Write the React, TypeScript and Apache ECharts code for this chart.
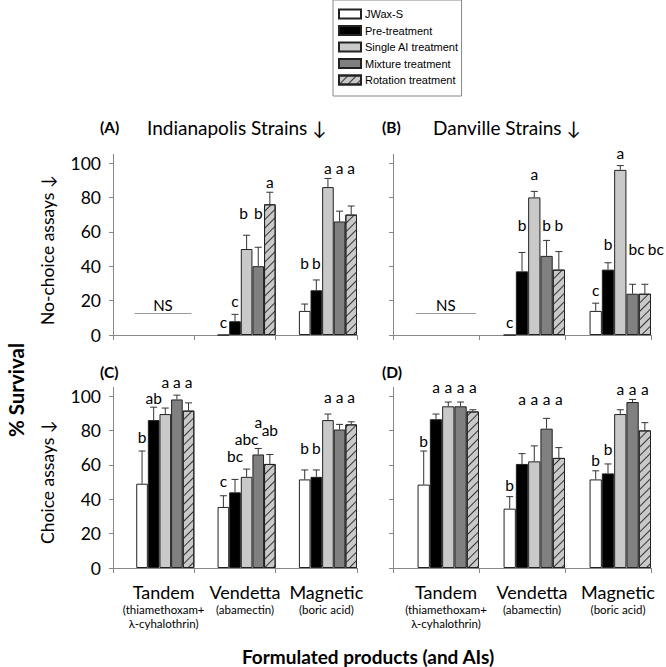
import React, { useEffect, useRef } from "react";
import * as echarts from "echarts";

const categories = ["Tandem", "Vendetta", "Magnetic"];
const subLabels = ["(thiamethoxam+\nλ-cyhalothrin)", "(abamectin)", "(boric acid)"];
const seriesNames = ["JWax-S", "Pre-treatment", "Single AI treatment", "Mixture treatment", "Rotation treatment"];
const yTicks = [0, 20, 40, 60, 80, 100];
const nsLevel = 12.5;

// Panel A: Indianapolis, no-choice (rows = series, cols = categories)
const meansA = [[null, 0, 14], [null, 8, 26], [null, 50, 86], [null, 40, 66], [null, 76, 70]];
const errA = [[null, null, 18], [null, 12, 32], [null, 58, 91], [null, 51, 72], [null, 83, 75]];
const lettersA = [["", "c", "b"], ["", "c", "b"], ["", "b", "a"], ["", "b", "a"], ["", "a", "a"]];
const letterYA = [[0, 7.5, 42], [0, 19.5, 42], [0, 71, 97], [0, 71, 97], [0, 89, 97]];

// Panel B: Danville, no-choice
const meansB = [[null, 0, 14], [null, 37, 38], [null, 80, 96], [null, 46, 24], [null, 38, 24]];
const errB = [[null, null, 18.5], [null, 48, 42], [null, 83.5, 98.5], [null, 55, 29.5], [null, 48.5, 29.5]];
const lettersB = [["", "c", "c"], ["", "b", "b"], ["", "a", "a"], ["", "b", "bc"], ["", "b", "bc"]];
const letterYB = [[0, 7.5, 26], [0, 64, 53], [0, 93.5, 106], [0, 64, 50], [0, 64, 50]];

// Panel C: Indianapolis, choice
const meansC = [[49, 35.5, 51.5], [86, 44, 53], [89.5, 53, 86], [98, 66, 80.5], [91.5, 60.5, 83.5]];
const errC = [[68, 42, 57], [93.5, 51.5, 57], [93, 57.5, 89.5], [100.5, 69.5, 83.5], [96, 66, 85]];
const lettersC = [["b", "c", "b"], ["ab", "bc", "b"], ["a", "abc", "a"], ["a", "a", "a"], ["a", "ab", "a"]];
const letterYC = [[76, 50.5, 70], [99, 65, 70], [108, 75, 99.5], [108, 85, 99.5], [108, 80, 99.5]];

// Panel D: Danville, choice
const meansD = [[48.5, 34.5, 51.5], [86.5, 60.5, 55], [94, 62, 89.5], [94, 81, 96.5], [91, 64, 80]];
const errD = [[68, 41.5, 56.5], [89.5, 66.5, 60.5], [96.5, 71, 92], [96.5, 87, 98], [92, 70, 84.5]];
const lettersD = [["b", "b", "b"], ["a", "a", "b"], ["a", "a", "a"], ["a", "a", "a"], ["a", "a", "a"]];
const letterYD = [[74, 48, 63], [105, 98.5, 69], [105, 98.5, 104], [105, 98.5, 104], [105, 98.5, 104]];

const FONT = "Lato, 'Open Sans', sans-serif";
const fillColors = ["#ffffff", "#000000", "#c9c9c9", "#808080", "#c9c9c9"];

// small horizontal nudges (px) for crowded letter pairs: [panel, series, category, dx]
const letterNudges: [number, number, number, number][] = [
  [1, 3, 2, 4],
  [1, 4, 2, 11],
  [0, 2, 1, -3],
];

type Panel = {
  means: (number | null)[][];
  err: (number | null)[][];
  letters: string[][];
  letterY: number[][];
  ns: boolean;
  left: number;
  top: number;
  width: number;
  showY: boolean;
  showX: boolean;
};

const PH = 180.6;
const panels: Panel[] = [
  { means: meansA, err: errA, letters: lettersA, letterY: letterYA, ns: true, left: 113, top: 154.4, width: 244, showY: true, showX: false },
  { means: meansB, err: errB, letters: lettersB, letterY: letterYB, ns: true, left: 393, top: 154.4, width: 258, showY: false, showX: false },
  { means: meansC, err: errC, letters: lettersC, letterY: letterYC, ns: false, left: 113, top: 387.4, width: 244, showY: true, showX: true },
  { means: meansD, err: errD, letters: lettersD, letterY: letterYD, ns: false, left: 393, top: 387.4, width: 258, showY: false, showX: true },
];

function buildOption() {
  const grid: any[] = [];
  const xAxis: any[] = [];
  const yAxis: any[] = [];
  const series: any[] = [];

  panels.forEach((p, pi) => {
    grid.push({ left: p.left, top: p.top, width: p.width, height: PH, containLabel: false });
    xAxis.push({
      type: "category",
      gridIndex: pi,
      data: categories,
      axisLine: { show: true, lineStyle: { color: "#888", width: 1 } },
      axisTick: { show: true, length: 5, lineStyle: { color: "#888" } },
      axisLabel: p.showX
        ? {
            show: true,
            interval: 0,
            margin: 12,
            padding: [0, 0, 0, 20],
            formatter: (v: string, i: number) =>
              `{m|${v}}\n` + subLabels[i].split("\n").map((s) => `{s|${s}}`).join("\n"),
            rich: {
              m: { fontSize: 18, fontFamily: FONT, color: "#000", lineHeight: 23 },
              s: { fontSize: 11.5, fontFamily: FONT, color: "#000", lineHeight: 13.5 },
            },
          }
        : { show: false },
      splitLine: { show: false },
    });
    yAxis.push({
      type: "value",
      gridIndex: pi,
      min: 0,
      max: 105,
      interval: 20,
      axisLine: { show: true, lineStyle: { color: "#888", width: 1 } },
      axisTick: { show: true, length: 4, lineStyle: { color: "#888" }, customValues: yTicks },
      axisLabel: p.showY
        ? { show: true, customValues: yTicks, fontSize: 17.5, fontFamily: FONT, color: "#000", margin: 12 }
        : { show: false },
      splitLine: { show: false },
    });

    for (let k = 0; k < 2; k++) {
      series.push({
        type: "bar",
        name: "_spacer" + k,
        xAxisIndex: pi,
        yAxisIndex: pi,
        data: [0, 0, 0],
        itemStyle: { color: "rgba(0,0,0,0)", borderWidth: 0 },
        barGap: "0%",
        barCategoryGap: "0%",
        silent: true,
      });
    }
    seriesNames.forEach((name, s) => {
      const itemStyle: any = { color: fillColors[s], borderColor: "#222", borderWidth: 1 };
      if (s === 4) {
        itemStyle.decal = {
          symbol: "rect",
          symbolSize: 1,
          dashArrayX: [1, 0],
          dashArrayY: [1, 4.5],
          rotation: -Math.PI / 4,
          color: "#333",
        };
      }
      series.push({
        type: "bar",
        name,
        xAxisIndex: pi,
        yAxisIndex: pi,
        data: p.means[s].map((v) => (v == null ? "-" : v)),
        itemStyle,
        barGap: "0%",
        barCategoryGap: "0%",
      });
    });

    const items: any[] = [];
    for (let s = 0; s < 5; s++) {
      for (let c = 0; c < 3; c++) {
        if (p.means[s][c] == null) continue;
        const nudge = letterNudges.find((n) => n[0] === pi && n[1] === s && n[2] === c);
        items.push({
          cat: c,
          slot: s,
          val: p.means[s][c],
          err: p.err[s][c],
          letter: p.letters[s][c],
          ly: p.letterY[s][c],
          dx: nudge ? nudge[3] : 0,
        });
      }
    }
    series.push({
      type: "custom",
      name: "_err" + pi,
      xAxisIndex: pi,
      yAxisIndex: pi,
      z: 5,
      silent: true,
      data: items.map((it) => [it.cat, it.val]),
      renderItem: (params: any, api: any) => {
        const it = items[params.dataIndex];
        const bw = api.size([1, 0])[0] / 7;
        const cx = api.coord([it.cat, 0])[0] + (it.slot - 1) * bw;
        const children: any[] = [];
        if (it.err != null) {
          const y0 = api.coord([it.cat, it.val])[1];
          const y1 = api.coord([it.cat, it.err])[1];
          children.push({ type: "line", shape: { x1: cx, y1: y0, x2: cx, y2: y1 }, style: { stroke: "#333", lineWidth: 1 } });
          children.push({ type: "line", shape: { x1: cx - 3.5, y1: y1, x2: cx + 3.5, y2: y1 }, style: { stroke: "#333", lineWidth: 1 } });
        }
        if (it.letter) {
          const yl = api.coord([it.cat, it.ly])[1];
          children.push({
            type: "text",
            x: cx + it.dx,
            y: yl,
            style: { text: it.letter, fill: "#000", fontSize: 15.5, fontFamily: FONT, align: "center", verticalAlign: "middle" },
          });
        }
        return { type: "group", children };
      },
    });

    if (p.ns) {
      series.push({
        type: "custom",
        name: "_ns" + pi,
        xAxisIndex: pi,
        yAxisIndex: pi,
        z: 5,
        silent: true,
        data: [[0, nsLevel]],
        renderItem: (params: any, api: any) => {
          const bw = api.size([1, 0])[0] / 7;
          const pt = api.coord([0, nsLevel]);
          const cx = pt[0] + bw * 0.8;
          const half = bw * 2.45;
          return {
            type: "group",
            children: [
              { type: "line", shape: { x1: cx - half, y1: pt[1], x2: cx + half, y2: pt[1] }, style: { stroke: "#999", lineWidth: 1 } },
              {
                type: "text",
                x: cx,
                y: pt[1] - 9,
                style: { text: "NS", fill: "#000", fontSize: 15, fontFamily: FONT, align: "center", verticalAlign: "middle" },
              },
            ],
          };
        },
      });
    }
  });

  const t = (text: string, x: number, y: number, opts: any = {}) => ({
    type: "text",
    x,
    y,
    rotation: opts.rotation || 0,
    style: {
      text,
      fill: "#000",
      fontSize: opts.fontSize || 19,
      fontWeight: opts.bold ? "bold" : "normal",
      fontFamily: FONT,
      align: opts.align || "left",
      verticalAlign: "middle",
    },
  });

  return {
    animation: false,
    backgroundColor: "#fff",
    grid,
    xAxis,
    yAxis,
    series,
    legend: {
      show: true,
      data: seriesNames,
      orient: "vertical",
      left: 333,
      top: 0,
      padding: [7, 3, 9, 5],
      itemWidth: 22,
      itemHeight: 9,
      itemGap: 2.5,
      borderColor: "#888",
      borderWidth: 1,
      icon: "rect",
      textStyle: { fontSize: 11, fontFamily: "'Liberation Sans', Arial, sans-serif", color: "#000", lineHeight: 14, padding: [0, 0, 0, -1] },
    },
    graphic: [
      t("(A)", 100, 127, { bold: true, fontSize: 15.5 }),
      t("Indianapolis Strains ↓", 147, 127),
      t("(B)", 382, 127, { bold: true, fontSize: 15.5 }),
      t("Danville Strains ↓", 433, 127),
      t("(C)", 100, 372, { bold: true, fontSize: 15.5 }),
      t("(D)", 382, 372, { bold: true, fontSize: 15.5 }),
      t("No-choice assays ↓", 47, 250, { rotation: Math.PI / 2, align: "center", fontSize: 17.5 }),
      t("Choice assays ↓", 47, 482, { rotation: Math.PI / 2, align: "center", fontSize: 17.5 }),
      t("% Survival", 16, 390, { rotation: Math.PI / 2, align: "center", bold: true, fontSize: 20.5 }),
      t("Formulated products (and AIs)", 368, 656, { align: "center", bold: true, fontSize: 19 }),
    ],
  };
}

export default function App() {
  const ref = useRef<HTMLDivElement>(null);
  useEffect(() => {
    if (!ref.current) return;
    const chart = echarts.init(ref.current, undefined, { renderer: "svg" });
    chart.setOption(buildOption() as any);
    return () => chart.dispose();
  }, []);
  return <div ref={ref} style={{ position: "fixed", left: 0, top: 0, width: 666, height: 667 }} />;
}
